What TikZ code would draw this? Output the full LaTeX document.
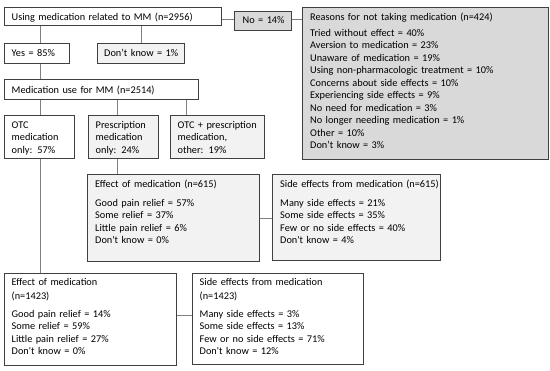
\documentclass[tikz,border=0pt]{standalone}
\usepackage{fontspec}
\setmainfont{Carlito}
\definecolor{bordc}{HTML}{404040}
\definecolor{linec}{HTML}{808080}
\definecolor{darkfill}{HTML}{D9D9D9}
\definecolor{lightfill}{HTML}{F2F2F2}
\newcommand{\sq}{\textquotesingle}
\begin{document}
\begin{tikzpicture}[x=1pt,y=-1pt,
  box/.style={draw=bordc,line width=0.8pt,fill=white,rectangle,inner sep=0pt,anchor=north west},
  dbox/.style={box,fill=darkfill},
  lbox/.style={box,fill=lightfill},
  txt/.style={inner sep=0pt,anchor=base west,align=left,text width=#1,font=\fontsize{10.3}{12.5}\selectfont},
  txt/.default=240pt,
  conn/.style={draw=linec,line width=0.6pt}]
\useasboundingbox[fill=white] (0,0) rectangle (550,371);
% boxes
\node[box,minimum width=217pt,minimum height=18pt] (using) at (4,7) {};
\node[dbox,minimum width=57.5pt,minimum height=19pt] (no) at (233.5,11) {};
\node[dbox,minimum width=246pt,minimum height=152pt] (reasons) at (302,7) {};
\node[box,minimum width=65pt,minimum height=20pt] (yes) at (4,43) {};
\node[lbox,minimum width=87pt,minimum height=20pt] (dk) at (97,43) {};
\node[box,minimum width=194pt,minimum height=20pt] (meduse) at (4,79) {};
\node[box,minimum width=70pt,minimum height=43pt] (otc) at (4,115) {};
\node[lbox,minimum width=70pt,minimum height=43pt] (presc) at (88,115) {};
\node[lbox,minimum width=94pt,minimum height=43pt] (otcp) at (170,115) {};
\node[lbox,minimum width=172pt,minimum height=87pt] (eff615) at (87,174) {};
\node[lbox,minimum width=168pt,minimum height=86pt] (side615) at (272,174) {};
\node[box,minimum width=172pt,minimum height=92pt] (eff1423) at (4,273) {};
\node[box,minimum width=171pt,minimum height=91pt] (side1423) at (192,273) {};
% texts
\node[txt] (usingt) at ([shift={(7.5pt,-13.8pt)}]using.north west) {Using medication related to MM (n=2956)};
\node[txt] (not) at ([shift={(9pt,-13pt)}]no.north west) {No = 14\%};
\node[txt] (reasonst) at ([shift={(8pt,-13.5pt)}]reasons.north west) {Reasons for not taking medication (n=424)\\[3.5pt]
Tried without effect = 40\%\\
Aversion to medication = 23\%\\
Unaware of medication = 19\%\\
Using non-pharmacologic treatment = 10\%\\
Concerns about side effects = 10\%\\
Experiencing side effects = 9\%\\
No need for medication = 3\%\\
No longer needing medication = 1\%\\
Other = 10\%\\
Don’t know = 3\%};
\node[txt] (yest) at ([shift={(7.5pt,-13.7pt)}]yes.north west) {Yes = 85\%};
\node[txt] (dkt) at ([shift={(7pt,-13.7pt)}]dk.north west) {Don’t know = 1\%};
\node[txt] (meduset) at ([shift={(7.5pt,-14.5pt)}]meduse.north west) {Medication use for MM (n=2514)};
\node[txt] (otct) at ([shift={(7.5pt,-13.5pt)}]otc.north west) {OTC\\medication\\only: 57\%};
\node[txt] (presct) at ([shift={(7.5pt,-13.5pt)}]presc.north west) {Prescription\\medication\\only: 24\%};
\node[txt] (otcpt) at ([shift={(7.5pt,-13.5pt)}]otcp.north west) {OTC + prescription\\medication,\\other: 19\%};
\node[txt] (eff615t) at ([shift={(8pt,-13.5pt)}]eff615.north west) {Effect of medication (n=615)\\[6.5pt]
Good pain relief = 57\%\\
Some relief = 37\%\\
Little pain relief = 6\%\\
Don\sq t know = 0\%};
\node[txt] (side615t) at ([shift={(8pt,-13.5pt)}]side615.north west) {Side effects from medication (n=615)\\[6.5pt]
Many side effects = 21\%\\
Some side effects = 35\%\\
Few or no side effects = 40\%\\
Don\sq t know = 4\%};
\node[txt] (eff1423t) at ([shift={(7.5pt,-13pt)}]eff1423.north west) {Effect of medication\\[0.8pt]
(n=1423)\\[5.5pt]
Good pain relief = 14\%\\
Some relief = 59\%\\
Little pain relief = 27\%\\
Don\sq t know = 0\%};
\node[txt] (side1423t) at ([shift={(7.5pt,-13pt)}]side1423.north west) {Side effects from medication\\[0.8pt]
(n=1423)\\[5.5pt]
Many side effects = 3\%\\
Some side effects = 13\%\\
Few or no side effects = 71\%\\
Don\sq t know = 12\%};
% connectors
\draw[conn] ([yshift=-2.5pt]using.east) -- ([yshift=-2.5pt]using.east -| no.west);
\draw[conn] ([yshift=-2.5pt]using.east -| no.east) -- ([yshift=-2.5pt]using.east -| reasons.west);
\draw[conn] ([xshift=36pt]using.south west) -- ([xshift=36pt]yes.north west);
\draw[conn] (dk.north |- using.south) -- (dk.north);
\draw[conn] ([xshift=36pt]yes.south west) -- ([xshift=36pt]meduse.north west);
\draw[conn] ([xshift=36pt]meduse.south west) -- ([xshift=36pt]otc.north west);
\draw[conn] ([xshift=29.3pt]presc.north west |- meduse.south) -- ([xshift=29.3pt]presc.north west);
\draw[conn] ([xshift=16.7pt]otcp.north west |- meduse.south) -- ([xshift=16.7pt]otcp.north west);
\draw[conn] ([xshift=29.3pt]presc.south west) -- ([xshift=29.3pt]presc.south west |- eff615.north);
\draw[conn] ([xshift=36pt]otc.south west) -- ([xshift=36pt]eff1423.north west);
\draw[conn] (eff615.east) -- (eff615.east -| side615.west);
\draw[conn] ([yshift=4pt]eff1423.east) -- ([yshift=4pt]eff1423.east -| side1423.west);
\end{tikzpicture}
\end{document}
